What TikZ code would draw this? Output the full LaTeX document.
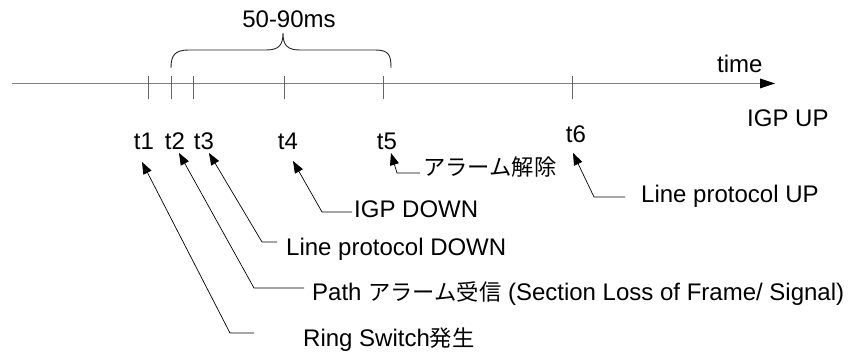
\documentclass[tikz,border=0pt]{standalone}
\usepackage{fontspec}
\setmainfont{Liberation Sans}
\newfontfamily\cjk{Noto Sans CJK JP}
\usetikzlibrary{arrows.meta}
\newcommand{\jp}[1]{{\cjk\fontsize{22.3}{26}\selectfont #1}}
\begin{document}
\begin{tikzpicture}[x=1pt,y=-1pt,
  lbl/.style={anchor=base west,inner sep=0pt,font=\fontsize{24}{28}\selectfont},
  tlbl/.style={anchor=base,inner sep=0pt,font=\fontsize{24}{28}\selectfont},
  axisline/.style={draw=black!50,line width=1.6pt},
  tickmark/.style={draw=black!60,line width=1pt},
  callout/.style={draw=black,line width=0.7pt,-{Triangle[length=12pt,width=9pt]}},
  bracepath/.style={draw=black!85,line width=0.9pt}]
\useasboundingbox (0,0) rectangle (849,352);
% axis
\coordinate (a0) at (12,83.5);
\coordinate (a1) at (775,83.5);
\draw[axisline] (a0) -- (760,83.5);
\fill[black] (a1) -- (760,78.5) -- (760,88.5) -- cycle;
% ticks
\foreach \n/\x in {1/148,2/171,3/193,4/284,5/383,6/572}{
  \coordinate (k\n a) at (\x,76);
  \coordinate (k\n b) at (\x,99);
  \draw[tickmark] (k\n a) -- (k\n b);
}
% brace
\draw[bracepath] (171,68) .. controls (171,55) and (175,50) .. (189,50) -- (266,50)
  .. controls (279,50) and (283,45) .. (283,33)
  .. controls (283,45) and (287,50) .. (300,50) -- (375,50)
  .. controls (389,50) and (391,55) .. (391,68);
\node[tlbl] (ms) at (289,28) {50-90ms};
\node[lbl] (time) at (717,73) {time};
\node[lbl] (igpup) at (747,127) {IGP UP};
% t labels
\node[tlbl] (t1) at (144,149.5) {t1};
\node[tlbl] (t2) at (175,149.5) {t2};
\node[tlbl] (t3) at (204,149.5) {t3};
\node[tlbl] (t4) at (288,149.5) {t4};
\node[tlbl] (t5) at (387,149.5) {t5};
\node[tlbl] (t6) at (576,143) {t6};
% event texts
\node[lbl] (ring) at (303,347) {Ring Switch\jp{発生}};
\node[lbl] (path) at (312,301) {Path \jp{アラーム受信} (Section Loss of Frame/ Signal)};
\node[lbl] (lpdown) at (286,256) {Line protocol DOWN};
\node[lbl] (igpdown) at (354,218) {IGP DOWN};
\node[lbl] (alarm) at (423,176) {\jp{アラーム解除}};
\node[lbl] (lpup) at (641,203) {Line protocol UP};
% callout coordinates
\coordinate (p1) at (142,162); \coordinate (c1) at (230,333); \coordinate (e1) at (254,333);
\coordinate (p2) at (179,153); \coordinate (c2) at (254,288); \coordinate (e2) at (304,288);
\coordinate (p3) at (209,153); \coordinate (c3) at (262,242); \coordinate (e3) at (277,242);
\coordinate (p4) at (293,161); \coordinate (c4) at (322,212); \coordinate (e4) at (352,212);
\coordinate (p5) at (391,153); \coordinate (c5) at (397,173); \coordinate (e5) at (420,173);
\coordinate (p6) at (573,153); \coordinate (c6) at (594,197); \coordinate (e6) at (625,197);
\foreach \i in {1,...,6}{\draw[callout] (e\i) -- (c\i) -- (p\i);}
\end{tikzpicture}
\end{document}
